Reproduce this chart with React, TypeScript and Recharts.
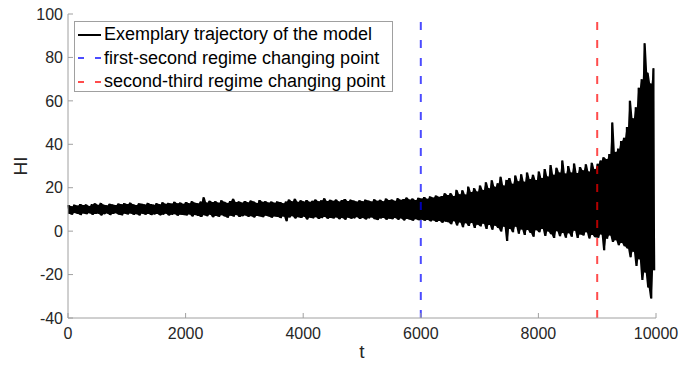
import { Area, ComposedChart, Label, Legend, Line, ReferenceLine, XAxis, YAxis } from "recharts";

// upper / lower swing of the trajectory, read every 50 steps of t
const hiEnv = [
  12.0, 11.5, 12.2, 11.8, 12.5, 12.0, 12.3, 11.6, 12.4, 12.8,
  12.1, 13.0, 12.2, 11.9, 12.6, 12.3, 12.0, 12.7, 12.4, 12.9,
  12.5, 13.1, 12.4, 12.0, 12.8, 12.6, 12.3, 13.0, 12.5, 12.2,
  12.9, 12.4, 13.3, 12.6, 13.0, 12.7, 13.5, 12.8, 13.2, 12.6,
  13.4, 12.9, 13.8, 13.1, 12.8, 13.6, 15.6, 13.2, 14.0, 13.4,
  13.8, 13.1, 14.2, 13.5, 13.0, 13.9, 14.9, 13.4, 13.7, 13.2,
  13.9, 13.3, 14.1, 13.6, 13.0, 14.3, 13.5, 13.8, 13.2, 13.6,
  13.1, 13.7, 13.4, 12.9, 13.6, 14.6, 13.8, 14.9, 13.5, 14.2,
  13.7, 14.3, 13.5, 14.0, 14.6, 13.8, 14.2, 15.1, 13.9, 14.4,
  14.0, 14.6, 13.7, 14.3, 14.8, 13.9, 14.5, 14.1, 13.6, 14.2,
  13.8, 14.5, 14.1, 13.7, 14.7, 14.0, 14.4, 13.8, 15.0, 14.3,
  14.6, 14.0, 15.2, 14.4, 14.8, 15.5, 14.6, 15.0, 14.3, 15.4,
  15.0, 15.7, 14.9, 16.0, 15.5, 16.4, 15.8, 16.2, 17.4, 16.6,
  17.5, 16.2, 19.0, 17.0, 18.8, 16.9, 20.5, 18.0, 19.8, 18.2,
  21.0, 19.0, 22.5, 19.8, 23.4, 20.5, 22.0, 25.0, 21.0, 23.6,
  24.5, 21.8, 25.6, 23.0, 26.2, 22.8, 27.0, 24.0, 26.0, 23.5,
  27.5, 24.5, 28.6, 25.2, 30.5, 26.0, 29.2, 27.0, 32.5, 26.5,
  30.0, 27.0, 31.2, 26.8, 29.5, 28.0, 30.8, 27.5, 31.5, 28.6,
  31.0, 32.5, 34.0, 33.2, 35.5, 50.0, 36.5, 38.0, 41.5, 43.0,
  48.0, 60.0, 52.0, 57.0, 66.0, 70.0, 86.5, 73.0, 68.0, 75.0,
];

const loEnv = [
  8.0, 7.6, 8.3, 7.9, 7.4, 8.1, 7.8, 8.2, 7.5, 7.9,
  8.0, 7.2, 7.8, 8.1, 7.4, 7.9, 8.2, 7.6, 7.3, 8.0,
  7.7, 8.1, 7.5, 7.8, 7.2, 8.0, 7.6, 7.9, 7.4, 7.7,
  7.9, 7.3, 7.6, 8.0, 7.2, 7.5, 7.8, 7.1, 7.6, 7.4,
  7.2, 7.7, 6.8, 7.4, 7.0, 6.5, 7.3, 6.9, 7.5, 6.4,
  7.0, 6.6, 7.3, 6.8, 6.2, 7.1, 6.7, 7.4, 6.5, 6.9,
  7.2, 6.6, 6.9, 6.3, 7.0, 6.8, 6.4, 7.1, 6.7, 6.2,
  6.8, 6.5, 6.0, 6.7, 4.6, 6.3, 6.9, 5.8, 6.4, 6.1,
  6.6, 5.4, 6.2, 5.9, 6.4, 5.6, 6.0, 6.5, 5.7, 6.1,
  5.8, 6.3, 5.5, 6.0, 5.3, 6.2, 5.7, 5.9, 6.4, 5.6,
  6.0, 5.4, 5.9, 6.3, 5.5, 5.1, 5.8, 6.1, 5.3, 5.7,
  5.5, 6.0, 5.2, 5.8, 4.9, 5.6, 5.3, 4.8, 5.5, 5.0,
  5.3, 4.8, 5.1, 4.5, 4.9, 4.2, 4.7, 3.9, 4.4, 4.1,
  3.2, 4.6, 2.6, 4.0, 1.8, 3.6, 2.4, 3.8, 1.5, 3.0,
  2.2, 3.4, 1.0, 2.8, 0.6, 2.5, 1.4, -0.2, 2.0, -4.5,
  1.0, -0.5, 2.0, -1.2, 0.8, -1.8, 0.5, -0.8, -2.6, 0.4,
  -0.5, 1.0, -2.2, -0.2, -1.4, -3.2, 0.0, -2.4, -0.8, -3.0,
  -1.0, -2.6, 0.2, -3.2, -1.5, -2.0, -0.5, -3.4, -1.8, -2.8,
  -3.0, -1.5, -8.8, -3.5, -2.0, -5.0, -4.2, -6.5, -5.5, -7.0,
  -8.0, -12.0, -9.5, -16.0, -13.0, -22.5, -19.0, -26.0, -31.0, -18.0,
];

const xTicks = [0, 2000, 4000, 6000, 8000, 10000];
const yTicks = [-40, -20, 0, 20, 40, 60, 80, 100];
const regimeChanges = [6000, 9000];

// zig-zag between the swings, with the swing band filled underneath
const trajectory = hiEnv.flatMap((hi, k) => [
  { t: k * 50, HI: hi, band: [loEnv[k], hi] },
  { t: k * 50 + 25, HI: loEnv[k], band: [loEnv[k], hi] },
]);

const FONT = "'Liberation Sans', Arial, Helvetica, sans-serif";
const AXIS = "#a0a0a0";
const TEXT = "#262626";

const legendItems = [
  { label: "Exemplary trajectory of the model", color: "#000", dash: undefined, opacity: 1 },
  { label: "first-second regime changing point", color: "#0000ff", dash: "6 11", opacity: 0.7 },
  { label: "second-third regime changing point", color: "#ff0000", dash: "6 11", opacity: 0.7 },
];

function LegendBox() {
  return (
    <div
      style={{
        width: 317,
        height: 68,
        border: `1px solid ${AXIS}`,
        background: "#fff",
        fontFamily: FONT,
        fontSize: 18,
        color: "#000",
        paddingTop: 1,
      }}
    >
      {legendItems.map((it) => (
        <div key={it.label} style={{ display: "flex", alignItems: "center", height: 23.5 }}>
          <svg width={29} height={10} style={{ flex: "none" }}>
            <line
              x1={3}
              x2={26}
              y1={5}
              y2={5}
              stroke={it.color}
              strokeOpacity={it.opacity}
              strokeWidth={2}
              strokeDasharray={it.dash}
            />
          </svg>
          <span style={{ whiteSpace: "nowrap" }}>{it.label}</span>
        </div>
      ))}
    </div>
  );
}

export default function App() {
  const tick = { fill: TEXT, fontSize: 16, fontFamily: FONT };
  const hidden = { fill: "transparent", fontSize: 1 };
  return (
    <div style={{ position: "absolute", left: 0, top: 0, width: 681, height: 367, background: "#fff" }}>
      <ComposedChart width={681} height={367} data={trajectory} margin={{ top: 14, right: 25, left: 0, bottom: 0 }}>
        <XAxis
          dataKey="t"
          type="number"
          domain={[0, 10000]}
          ticks={xTicks}
          tick={tick}
          tickSize={-5}
          tickMargin={15}
          height={49}
          stroke={AXIS}
          interval={0}
        >
          <Label
            content={({ viewBox }: any) => (
              <text
                x={viewBox.x + viewBox.width / 2}
                y={viewBox.y + 40}
                textAnchor="middle"
                fontSize={19}
                fontFamily={FONT}
                fill={TEXT}
              >
                t
              </text>
            )}
          />
        </XAxis>
        <XAxis
          xAxisId="top"
          orientation="top"
          type="number"
          domain={[0, 10000]}
          ticks={xTicks}
          tick={hidden}
          tickSize={-5}
          height={0}
          stroke={AXIS}
          interval={0}
        />
        <YAxis
          type="number"
          domain={[-40, 100]}
          ticks={yTicks}
          tick={tick}
          tickSize={-5}
          tickMargin={10}
          width={68}
          stroke={AXIS}
          interval={0}
          allowDataOverflow
        >
          <Label
            content={({ viewBox }: any) => {
              const cx = 20;
              const cy = viewBox.y + viewBox.height / 2;
              return (
                <text
                  x={cx}
                  y={cy}
                  transform={`rotate(-90 ${cx} ${cy})`}
                  textAnchor="middle"
                  dominantBaseline="central"
                  fontSize={19}
                  fontFamily={FONT}
                  fill={TEXT}
                >
                  HI
                </text>
              );
            }}
          />
        </YAxis>
        <YAxis
          yAxisId="right"
          orientation="right"
          type="number"
          domain={[-40, 100]}
          ticks={yTicks}
          tick={hidden}
          tickSize={-5}
          width={0}
          stroke={AXIS}
          interval={0}
        />
        <Area
          dataKey="band"
          type="linear"
          fill="#000"
          fillOpacity={1}
          stroke="none"
          activeDot={false}
          isAnimationActive={false}
        />
        <Line
          dataKey="HI"
          stroke="#000"
          strokeWidth={1.5}
          dot={false}
          activeDot={false}
          isAnimationActive={false}
        />
        <ReferenceLine
          x={regimeChanges[0]}
          stroke="#0000ff"
          strokeOpacity={0.7}
          strokeWidth={2}
          strokeDasharray="8 10"
        />
        <ReferenceLine
          x={regimeChanges[1]}
          stroke="#ff0000"
          strokeOpacity={0.7}
          strokeWidth={2}
          strokeDasharray="8 10"
        />
        <Legend
          layout="vertical"
          align="center"
          verticalAlign="middle"
          wrapperStyle={{ left: 74, top: 21, width: 319, height: 70 }}
          content={() => <LegendBox />}
        />
      </ComposedChart>
    </div>
  );
}
